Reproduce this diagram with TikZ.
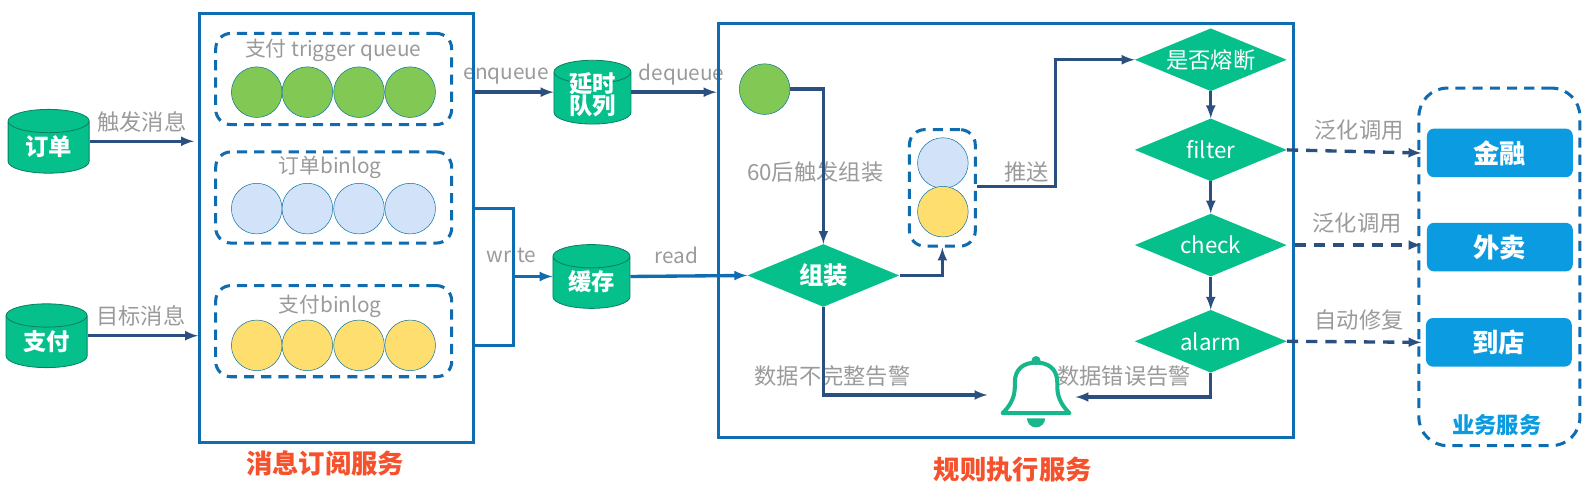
\documentclass[tikz,border=0pt]{standalone}
\usepackage{fontspec}
\setmainfont{Noto Sans CJK SC}
\usetikzlibrary{shapes.geometric,calc}
\definecolor{boxblue}{HTML}{0F6CB0}
\definecolor{linkblue}{HTML}{2B5080}
\definecolor{dbgreen}{HTML}{06C08C}
\definecolor{dbedge}{HTML}{07805F}
\definecolor{svcblue}{HTML}{0A9BE0}
\definecolor{ballgreen}{HTML}{82C854}
\definecolor{ballblue}{HTML}{D2E2F9}
\definecolor{ballyellow}{HTML}{FEDE6E}
\definecolor{notegray}{HTML}{9A9A9A}
\definecolor{titlered}{HTML}{F4512C}
\tikzset{
    db/.style={cylinder, shape border rotate=90, aspect=.5, minimum width=80, minimum height=63,
        inner sep=0pt, draw=dbedge, line width=.8pt, fill=dbgreen, text=white, anchor=shape center,
        font=\fontsize{23}{26}\selectfont\bfseries, align=center},
    gate/.style={diamond, aspect=2.4, minimum width=150, minimum height=62, inner sep=-8pt,
        fill=dbgreen, text=white, font=\fontsize{22}{25}\selectfont},
    note/.style={text=notegray, inner sep=0pt, font=\fontsize{22}{25}\selectfont},
    latinnote/.style={note, font=\fontsize{20.5}{24}\selectfont},
    ball/.style={circle, minimum size=50, inner sep=0pt, draw=boxblue!70!teal, line width=.5pt},
    frame/.style={draw=boxblue, line width=3pt, inner sep=0pt},
    group/.style={draw=boxblue, line width=3pt, rounded corners=15pt, dash pattern=on 10pt off 7pt, inner sep=0pt},
    svc/.style={fill=svcblue, rounded corners=7pt, minimum width=144, minimum height=48, inner sep=0pt,
        text=white, font=\fontsize{26}{29}\selectfont\bfseries},
    title/.style={text=titlered, inner sep=0pt, font=\fontsize{26}{30}\selectfont\bfseries},
    link/.style={draw=linkblue, line width=3.3pt, -latex},
    wire/.style={draw=boxblue, line width=3.3pt},
    call/.style={link, dash pattern=on 11pt off 8pt, shorten >=-4pt},
}
\begin{document}
\begin{tikzpicture}[x=1pt,y=-1pt]
    \useasboundingbox (0,0) rectangle (1568,496.66);

    %labels
    \node[note] (ltrig)  at (140,120) {触发消息};
    \node[note] (laim)   at (139,312) {目标消息};
    \node[latinnote] (lenq)   at (500,75)  {enqueue};
    \node[latinnote] (ldeq)   at (673,74)  {dequeue};
    \node[latinnote] (lwrite) at (505,251) {write};
    \node[latinnote] (lread)  at (668,252) {read};
    \node[note] (lfire)  at (805,170) {60后触发组装};
    \node[note] (lpush)  at (1014,170) {推送};
    \node[note] (lbad)   at (822,371) {数据不完整告警};
    \node[note] (lerr)   at (1110,371) {数据错误告警};
    \node[note] (lcalla) at (1342,128) {泛化调用};
    \node[note] (lcallb) at (1340,220) {泛化调用};
    \node[note] (lfix)   at (1342,316) {自动修复};

    %Abonnement
    \node[frame, minimum width=271, minimum height=424] (sub) at (332.5,225) {};
    \node[group, minimum width=233, minimum height=90]  (gqueue) at (329.5,78)  {};
    \node[group, minimum width=233, minimum height=90]  (gorder) at (329.5,195) {};
    \node[group, minimum width=233, minimum height=90]  (gpay)   at (329.5,327) {};
    \node[latinnote] (tqueue) at (329,50)  {支付 trigger queue};
    \node[latinnote] (torder) at (326,165) {订单binlog};
    \node[latinnote] (tpay)   at (326,303) {支付binlog};
    \foreach \i/\x in {1/253.5,2/303.5,3/354.5,4/405}{
        \node[ball, fill=ballgreen]  (qa\i) at (\x,91)  {};
        \node[ball, fill=ballblue]   (qb\i) at (\x,206) {};
        \node[ball, fill=ballyellow] (qc\i) at (\x,341) {};
    }

    %Quellen
    \node[db] (order) at (48,139.5)  {\raisebox{3pt}{订单}};
    \node[db] (pay)   at (46,331.5)  {\raisebox{3pt}{支付}};
    \node[db, minimum width=76] (delay) at (585,91)  {\raisebox{-11pt}{\smash{\begin{tabular}{@{}c@{}}延时\\[-5pt]队列\end{tabular}}}};
    \node[db, minimum width=76] (cache) at (584,273) {\raisebox{4pt}{缓存}};

    %Regeln
    \node[frame, minimum width=568, minimum height=409] (rule) at (993,227.5) {};
    \node[ball, fill=ballgreen] (head) at (755,88) {};
    \node[group, minimum width=65, minimum height=115] (gpair) at (930.5,185.5) {};
    \node[ball, fill=ballblue]   (pairb) at (931,161) {};
    \node[ball, fill=ballyellow] (pairy) at (931,209) {};
    \node[gate] (build)  at (813,272)    {\fontsize{24}{27}\selectfont\bfseries 组装};
    \node[gate] (fuse)   at (1195.5,59)  {是否熔断};
    \node[gate] (filter) at (1195.5,148) {filter};
    \node[gate] (check)  at (1195.5,242) {check};
    \node[gate] (alarm)  at (1195.5,337) {alarm};

    %Glocke
    \coordinate (bella) at (975,390);
    \coordinate (bellb) at (1062,392);
    \draw[draw=dbgreen!85!gray, line width=4pt, line join=round, line cap=round]
        (990,408) .. controls (1003,395) and (1002,385) .. (1002,378)
        .. controls (1002,364) and (1011,358) .. (1023,358)
        .. controls (1035,358) and (1044,364) .. (1044,378)
        .. controls (1044,385) and (1043,395) .. (1056,408) -- cycle;
    \fill[dbgreen!85!gray] (1023,356) circle (4.5);
    \fill[dbgreen!85!gray] (1014,413) arc (180:0:9) -- cycle;

    %Dienste
    \node[group, rounded corners=28pt, minimum width=159, minimum height=353] (biz) at (1480.5,263.5) {};
    \node[svc] (fin)   at (1481,151) {金融};
    \node[svc] (food)  at (1481,244) {外卖};
    \node[svc] (store) at (1480,338) {到店};
    \node[inner sep=0pt, text=svcblue, font=\fontsize{22}{25}\selectfont\bfseries] (tbiz) at (1478,420) {业务服务};
    \node[title] (tsub)  at (321,458)  {消息订阅服务};
    \node[title] (trule) at (1000,464) {规则执行服务};

    %Verbindungen
    \draw[link, shorten >=4pt] (order.shape center -| order.east) -- (order.shape center -| sub.west);
    \draw[link] (pay.shape center -| pay.east) -- (pay.shape center -| sub.west);
    \draw[link] (sub.east |- qa4) -- (delay.shape center -| delay.west);
    \draw[link] (delay.shape center -| delay.east) -- (delay.shape center -| rule.west);
    \coordinate (wjoin) at (507,273);
    \draw[wire] (sub.east |- qb4) -| (wjoin);
    \draw[wire] (sub.east |- qc4) -| (wjoin);
    \draw[wire, -latex] (wjoin) -- (cache.shape center -| cache.west);
    \draw[wire, -latex] (cache.shape center -| cache.east) -- (build.west);
    \draw[link] (head.east) -| (build.north);
    \draw[link] (build.east) -| (gpair.south);
    \draw[link] (gpair.east |- 0,184) -| (1042,59) -- (fuse.west);
    \draw[link] (fuse)   -- (filter);
    \draw[link] (filter) -- (check);
    \draw[link] (check)  -- (alarm);
    \draw[link] (build.south) |- (bella);
    \draw[link] (alarm.south) |- (bellb);
    \draw[call] (filter.east) -- (biz.west |- fin);
    \draw[call] (rule.east |- check) -- (biz.west |- check);
    \draw[call] (alarm.east) -- (biz.west |- store);
\end{tikzpicture}
\end{document}
